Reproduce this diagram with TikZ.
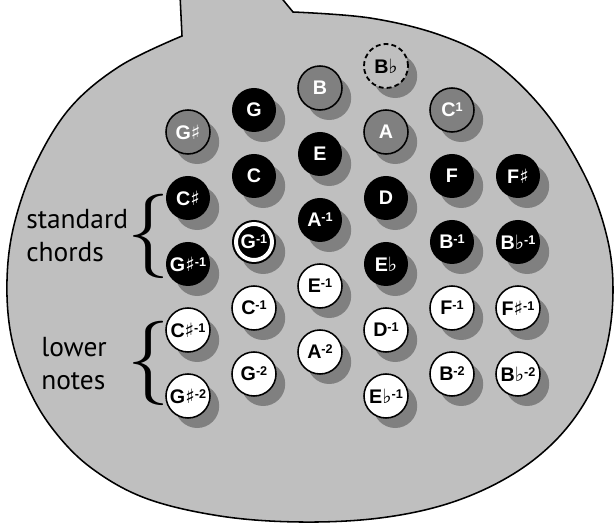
\documentclass[tikz,border=0pt]{standalone}
\usepackage{fontspec}
\newfontfamily\keyfont{Liberation Sans}
\newfontfamily\labelfont{PT Sans}
\newfontfamily\musicfont{DejaVu Sans}
\usetikzlibrary{shadows}
\definecolor{bodygray}{gray}{0.75}
\definecolor{holegray}{gray}{0.5}
\newcommand{\shp}{{\musicfont\mdseries\fontsize{14}{14}\selectfont ♯}}
\newcommand{\flt}{{\musicfont\mdseries\fontsize{14}{14}\selectfont ♭}}
\newcommand{\oct}[1]{\raisebox{3.6pt}{\fontsize{9}{9}\selectfont#1}}

\begin{document}
\begin{tikzpicture}[x=0.025cm, y=-0.025cm,
    btn/.style={circle, minimum size=1.1cm, inner sep=0pt, line width=1.1pt,
      font=\keyfont\bfseries\fontsize{14}{15}\selectfont,
      drop shadow={shadow xshift=0.23cm, shadow yshift=-0.25cm, fill=holegray, opacity=1}},
    chordkey/.style={btn, fill=black, text=white},
    basskey/.style={btn, draw=black, fill=holegray, text=white},
    lowkey/.style={btn, draw=black, fill=white, text=black},
    sparekey/.style={btn, draw=black, fill=bodygray, text=black, dash pattern=on 3.5pt off 2.2pt, line width=1.3pt},
    ringkey/.style={chordkey, path picture={\draw[white, line width=2.8pt] (path picture bounding box.center) circle (0.45cm);}},
    sidelabel/.style={font=\labelfont\fontsize{19.5}{23.5}\selectfont, align=left, inner sep=0pt, anchor=west},
    curly/.style={font=\fontsize{60}{60}\selectfont, inner sep=0pt}]
  \useasboundingbox (0,0) rectangle (614,523);
  \clip (0,0) rectangle (614,523);

  % body of the instrument
  \path[fill=bodygray, draw=black, line width=1.1pt] (180,-5) -- (182,36)
    -- plot[smooth, tension=0.6] coordinates {(182,36) (120,66) (70,108) (35,165) (14,225) (7,280) (11,335) (27,385) (52,428) (90,467) (145,498) (220,516) (300,522) (380,518) (450,503) (510,476) (556,440) (589,395) (607,345) (613,290) (607,237) (586,178) (546,113) (494,62) (440,35) (370,18) (293,12)}
    -- (279,-5);

  \node[basskey] (gs) at (188,132) {G\shp};
  \node[chordkey] (cs) at (188,198) {C\shp};
  \node[chordkey] (gsm) at (188,264) {G\shp\oct{-1}};
  \node[lowkey] (csl) at (188,330) {C\shp\oct{-1}};
  \node[lowkey] (gsl) at (188,396) {G\shp\oct{-2}};

  \node[chordkey] (g) at (254,110) {G};
  \node[chordkey] (c) at (254,176) {C};
  \node[ringkey] (gm) at (254,242) {G\oct{-1}};
  \node[lowkey] (cl) at (254,308) {C\oct{-1}};
  \node[lowkey] (gl) at (254,374) {G\oct{-2}};

  \node[basskey] (b) at (320,88) {B};
  \node[chordkey] (e) at (320,154) {E};
  \node[chordkey] (am) at (320,220) {A\oct{-1}};
  \node[lowkey] (el) at (320,286) {E\oct{-1}};
  \node[lowkey] (al) at (320,352) {A\oct{-2}};

  \node[sparekey] (bf) at (386,66) {B\flt};
  \node[basskey] (a) at (386,132) {A};
  \node[chordkey] (d) at (386,198) {D};
  \node[chordkey] (ef) at (386,264) {E\flt};
  \node[lowkey] (dl) at (386,330) {D\oct{-1}};
  \node[lowkey] (efl) at (386,396) {E\flt\oct{-1}};

  \node[basskey] (ch) at (452,110) {C\oct{1}};
  \node[chordkey] (f) at (452,176) {F};
  \node[chordkey] (bm) at (452,242) {B\oct{-1}};
  \node[lowkey] (fl) at (452,308) {F\oct{-1}};
  \node[lowkey] (bl) at (452,374) {B\oct{-2}};

  \node[chordkey] (fs) at (518,176) {F\shp};
  \node[chordkey] (bfm) at (518,242) {B\flt\oct{-1}};
  \node[lowkey] (fsl) at (518,308) {F\shp\oct{-1}};
  \node[lowkey] (bfl) at (518,374) {B\flt\oct{-2}};

  % labels on the left
  \node[sidelabel] (chordlabel) at (26,236) {standard\\chords};
  \node[sidelabel] (lowlabel) at (41,364) {lower\\notes};
  \node[curly] (chordbrace) at (149,236) {\{};
  \node[curly] (lowbrace) at (149,363) {\{};
\end{tikzpicture}
\end{document}
